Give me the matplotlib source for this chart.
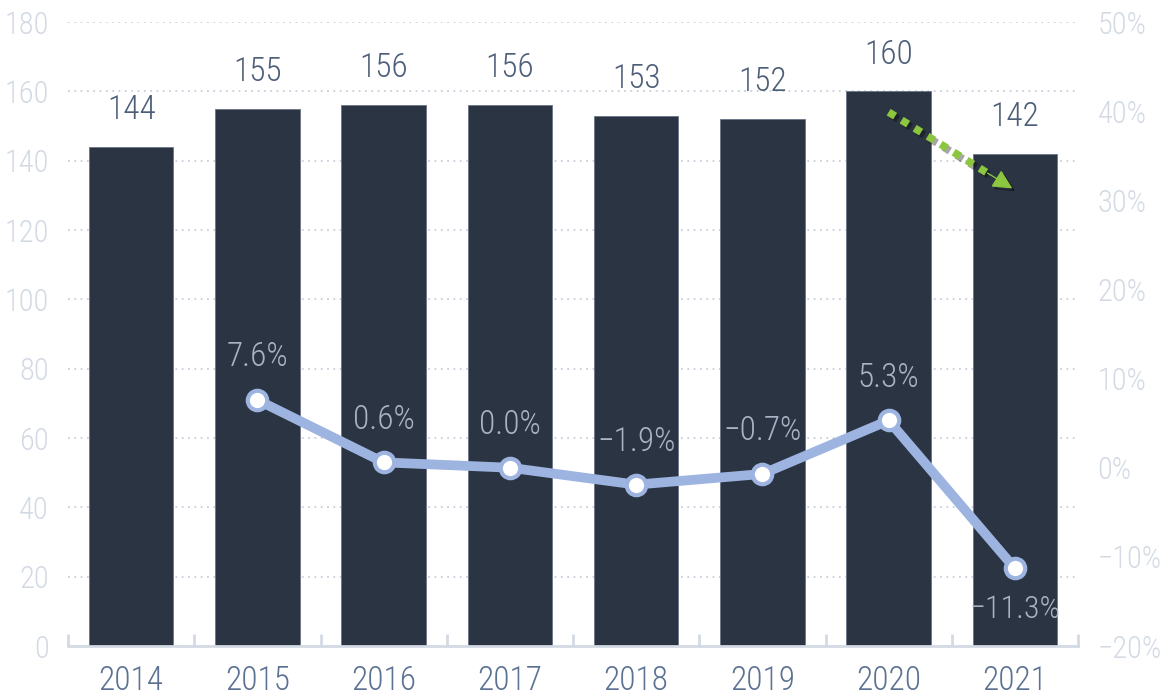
import matplotlib
matplotlib.use("Agg")
import matplotlib.pyplot as plt
import matplotlib.patheffects as pe
import numpy as np
from matplotlib import font_manager

years = ["2014", "2015", "2016", "2017", "2018", "2019", "2020", "2021"]
volumes = [144, 155, 156, 156, 153, 152, 160, 142]
growth = [None, 7.6, 0.6, 0.0, -1.9, -0.7, 5.3, -11.3]
left_ticks = [0, 20, 40, 60, 80, 100, 120, 140, 160, 180]
right_ticks = [-20, -10, 0, 10, 20, 30, 40, 50]

names = {f.name for f in font_manager.fontManager.ttflist}
fam = []
for n in ["Liberation Sans Narrow", "Roboto Condensed", "Open Sans Condensed", "Roboto"]:
    if n in names:
        fam.append(n)
fam.append("DejaVu Sans")
plt.rcParams["font.family"] = fam
plt.rcParams["font.weight"] = "light"

BAR = "#2b3442"
BAR_LBL = "#4d5e78"
TICK_LIGHT = "#d3dae4"
PCT_LBL = "#a8b3c5"
LINE = "#9db3e0"
YEAR = "#5c7292"
GREEN = "#8cc63f"

fig = plt.figure(figsize=(11.63, 7.0), dpi=100)
ax = fig.add_axes([68 / 1163, 54 / 700, 1010 / 1163, 624 / 700])
x = np.arange(len(years))
ax.set_xlim(-0.5, len(years) - 0.5)
ax.set_ylim(0, 180)
ax.set_yticks(left_ticks)
ax.grid(axis="y", linestyle=(0, (1, 2.5)), color="#c9d0da", linewidth=1.3)
ax.set_axisbelow(True)

bars = ax.bar(x, volumes, width=0.67, color=BAR, edgecolor="#6a7588", linewidth=0.6, zorder=2)
for xi, v in zip(x, volumes):
    ax.text(xi, v + 6, str(v), ha="center", va="bottom", fontsize=24, color=BAR_LBL)

for s in ["top", "right", "left"]:
    ax.spines[s].set_visible(False)
ax.spines["bottom"].set_color(TICK_LIGHT)
ax.spines["bottom"].set_linewidth(2)
ax.set_xticks(x)
ax.set_xticklabels(years)
ax.tick_params(axis="x", which="major", length=0, labelsize=24, labelcolor=YEAR, pad=14)
ax.set_xticks(np.arange(-0.5, len(years)), minor=True)
ax.tick_params(axis="x", which="minor", direction="in", length=9, width=2, color=TICK_LIGHT)
ax.tick_params(axis="y", length=0, labelsize=22, labelcolor=TICK_LIGHT, pad=14)

ax2 = ax.twinx()
ax2.set_ylim(-20, 50)
ax2.set_yticks(right_ticks)
ax2.set_yticklabels([("\u2212" if t < 0 else "") + f"{abs(t)}%" for t in right_ticks])
ax2.tick_params(axis="y", length=0, labelsize=22, labelcolor=TICK_LIGHT, pad=14)
for s in ["top", "right", "left", "bottom"]:
    ax2.spines[s].set_visible(False)

gx = [xi for xi, g in zip(x, growth) if g is not None]
gy = [g for g in growth if g is not None]
ax2.plot(gx, gy, color=LINE, linewidth=7, solid_capstyle="round", zorder=3,
         marker="o", markersize=14, markerfacecolor="white", markeredgecolor=LINE, markeredgewidth=3)
for xi, g in zip(gx, gy):
    lbl = ("\u2212" if g < 0 else "") + f"{abs(g):.1f}%"
    if g < -5:
        ax2.text(xi, g - 3.0, lbl, ha="center", va="top", fontsize=23, color=PCT_LBL, zorder=4)
    else:
        ax2.text(xi, g + 3.0, lbl, ha="center", va="bottom", fontsize=24, color=PCT_LBL, zorder=4)

# green trend arrow between the last two bars
shadow = [pe.SimpleLineShadow(offset=(2, -2), shadow_color="black", alpha=0.35), pe.Normal()]
x0, y0 = 6.0, volumes[6] - 6
x1, y1 = 7 - 0.02, volumes[7] - 10
fx = 0.82
ax.plot([x0, x0 + (x1 - x0) * fx], [y0, y0 + (y1 - y0) * fx], color=GREEN, linewidth=5.5,
        linestyle=(0, (1, 1.0)), dash_capstyle="butt", zorder=5, path_effects=shadow)
ann = ax.annotate("", xy=(x1, y1), xytext=(x0 + (x1 - x0) * 0.80, y0 + (y1 - y0) * 0.80),
                  arrowprops=dict(arrowstyle="-|>,head_length=1.2,head_width=0.6",
                                  color=GREEN, linewidth=1, shrinkA=0, shrinkB=0),
                  zorder=6)
ann.arrow_patch.set_path_effects(shadow)

fig.savefig("out.png", dpi=100)
